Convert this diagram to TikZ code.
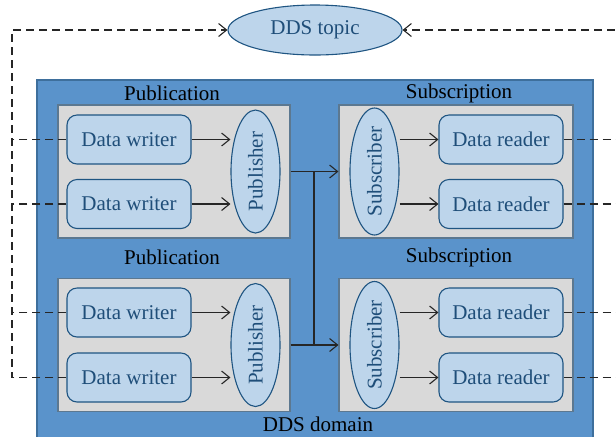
\documentclass[tikz,border=0pt]{standalone}
\usepackage{fontspec}
\setmainfont{Liberation Serif}
\usetikzlibrary{shapes.geometric,arrows.meta}

\definecolor{domblue}{HTML}{5A93CB}
\definecolor{domedge}{HTML}{3E6F9C}
\definecolor{grpgray}{HTML}{D9D9D9}
\definecolor{grpedge}{HTML}{5C7890}
\definecolor{nodefill}{HTML}{BDD5EB}
\definecolor{nodeedge}{HTML}{1F5582}
\definecolor{nodetext}{HTML}{1F4E79}

\begin{document}
\begin{tikzpicture}[
    x=0.5pt,
    y=-0.5pt,
    line width=0.55pt,
    >={Straight Barb[length=4pt,width=6.5pt]},
    font=\fontsize{10.5}{12}\selectfont,
    dombox/.style={
        rectangle,
        draw=domedge,
        fill=domblue,
        inner sep=0pt,
    },
    grpbox/.style={
        rectangle,
        draw=grpedge,
        fill=grpgray,
        inner sep=0pt,
        minimum height=66.5pt,
    },
    rwnode/.style={
        rectangle,
        rounded corners=5pt,
        draw=nodeedge,
        fill=nodefill,
        text=nodetext,
        inner sep=0pt,
        minimum width=62pt,
        minimum height=24.5pt,
    },
    psnode/.style={
        ellipse,
        draw=nodeedge,
        fill=nodefill,
        text=nodetext,
        inner sep=0pt,
        minimum width=24.5pt,
        minimum height=61.5pt,
    },
    dline/.style={
        draw=black!85,
        dash pattern=on 4pt off 2.5pt,
    },
]

    \useasboundingbox (0,0) rectangle (616,436);

    \node[dombox, minimum width=278pt, minimum height=182.5pt] (dom) at (315,262.5) {};
    \node (domlbl) at (318,424) {DDS domain};

    \node[psnode, minimum width=87pt, minimum height=25pt] (topic) at (315,30) {DDS topic};

    \node (pubtitA) at (172,93)  {Publication};
    \node (pubtitB) at (172,257) {Publication};
    \node (subtitA) at (459,93)  {Subscription};
    \node (subtitB) at (459,257) {Subscription};

    \node[grpbox, minimum width=116pt] (pubA) at (174,171.5) {};
    \node[grpbox, minimum width=116pt] (pubB) at (174,345)   {};
    \node[grpbox, minimum width=117pt] (subA) at (456,171.5) {};
    \node[grpbox, minimum width=117pt] (subB) at (456,345)   {};

    \node[rwnode] (w1) at (129,139.5) {Data writer};
    \node[rwnode] (w2) at (129,204)   {Data writer};
    \node[rwnode] (w3) at (129,312.5) {Data writer};
    \node[rwnode] (w4) at (129,377.5) {Data writer};

    \node[psnode] (p1) at (255.5,171.5) {\rotatebox{90}{Publisher}};
    \node[psnode] (p2) at (255.5,345)   {\rotatebox{90}{Publisher}};
    \node[psnode] (s1) at (374.5,171.5) {\rotatebox{90}{Subscriber}};
    \node[psnode] (s2) at (374.5,345)   {\rotatebox{90}{Subscriber}};

    \node[rwnode] (r1) at (501,139.5) {Data reader};
    \node[rwnode] (r2) at (501,204)   {Data reader};
    \node[rwnode] (r3) at (501,312.5) {Data reader};
    \node[rwnode] (r4) at (501,377.5) {Data reader};

    \coordinate (lcorner) at (12,30);
    \coordinate (rcorner) at (630,30);
    \coordinate (bus) at (314,0);

    \draw[->, black!85] (w1.east) -- (w1.east -| p1.west);
    \draw[->, black!85] (w2.east) -- (w2.east -| p1.west);
    \draw[->, black!85] (w3.east) -- (w3.east -| p2.west);
    \draw[->, black!85] (w4.east) -- (w4.east -| p2.west);

    \draw[->, black!85] (r1.west -| s1.east) -- (r1.west);
    \draw[->, black!85] (r2.west -| s1.east) -- (r2.west);
    \draw[->, black!85] (r3.west -| s2.east) -- (r3.west);
    \draw[->, black!85] (r4.west -| s2.east) -- (r4.west);

    \draw[->, black!85] (pubA.east) -- (subA.west);
    \draw[->, black!85] (pubB.east) -- (subB.west);
    \draw[black!85] (pubA.east -| bus) -- (pubB.east -| bus);

    \draw[dline, ->] (w4.west) -| (lcorner) -- (topic.west);
    \draw[dline] (w1.west) -- (w1.west -| lcorner);
    \draw[dline] (w2.west) -- (w2.west -| lcorner);
    \draw[dline] (w3.west) -- (w3.west -| lcorner);

    \draw[dline, ->] (r4.east) -| (rcorner) -- (topic.east);
    \draw[dline] (r1.east) -- (r1.east -| rcorner);
    \draw[dline] (r2.east) -- (r2.east -| rcorner);
    \draw[dline] (r3.east) -- (r3.east -| rcorner);

\end{tikzpicture}
\end{document}
